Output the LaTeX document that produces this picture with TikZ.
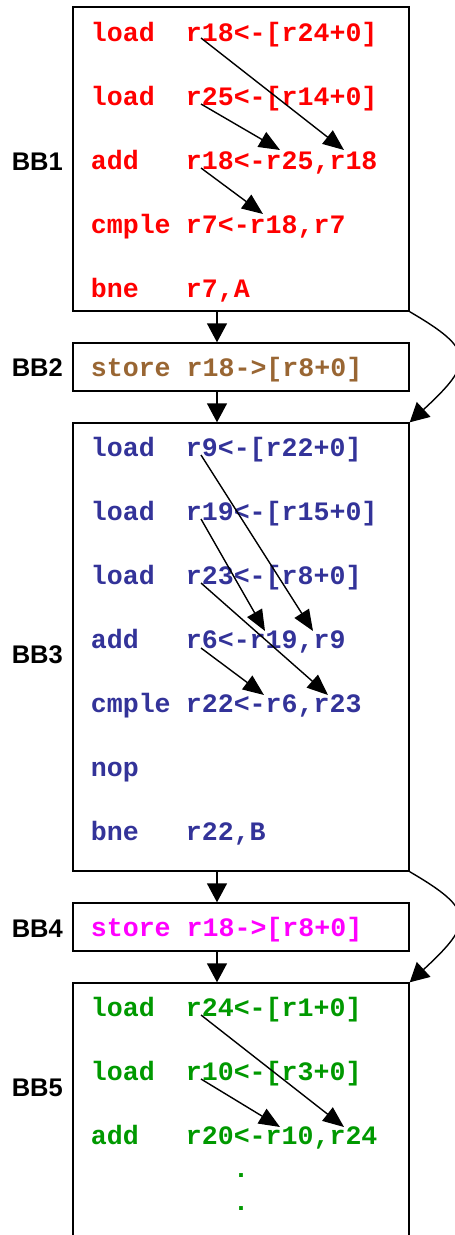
\documentclass[tikz,border=0pt]{standalone}
\usepackage{fontspec}
\usetikzlibrary{arrows.meta}
\newfontfamily\codefont{Liberation Mono}
\newfontfamily\labfont{Liberation Sans}
\definecolor{cred}{HTML}{FF0000}
\definecolor{cbrown}{HTML}{996633}
\definecolor{cblue}{HTML}{333399}
\definecolor{cmag}{HTML}{FF00FF}
\definecolor{cgreen}{HTML}{009900}
\begin{document}
\begin{tikzpicture}[x=1pt,y=-1pt,
  box/.style={draw=black, line width=1.4pt, inner sep=0pt, minimum width=336pt},
  code/.style={anchor=base west, inner sep=0pt, font=\codefont\bfseries\fontsize{26.6}{30}\selectfont},
  lab/.style={anchor=base east, inner sep=0pt, font=\labfont\bfseries\fontsize{25.5}{30}\selectfont},
  flow/.style={line width=1.4pt, -{Triangle[length=19pt,width=20pt]}},
  dep/.style={line width=1.4pt, -{Triangle[length=21pt,width=17pt]}}]
\useasboundingbox (0,0) rectangle (455,1235);
\clip (0,0) rectangle (455,1235);
\fill[white] (0,0) rectangle (455,1235);
% boxes
\node[box, minimum height=304pt] (bb1) at (241,159) {};
\node[box, minimum height=48pt] (bb2) at (241,367) {};
\node[box, minimum height=448pt] (bb3) at (241,647) {};
\node[box, minimum height=48pt] (bb4) at (241,927) {};
\node[box, minimum height=320pt] (bb5) at (241,1143) {};
% labels
\node[lab] (l1) at (63,170.7) {BB1};
\node[lab] (l2) at (63,376) {BB2};
\node[lab] (l3) at (63,663) {BB3};
\node[lab] (l4) at (63,937) {BB4};
\node[lab] (l5) at (63,1096) {BB5};
% BB1 code
\begin{scope}[every node/.append style={text=cred}]
\node[code] (b1o1) at (90.7,41.5) {load};  \node[code] (b1r1) at (185.7,41.5) {r18<-[r24+0]};
\node[code] (b1o2) at (90.7,105.5) {load}; \node[code] (b1r2) at (185.7,105.5) {r25<-[r14+0]};
\node[code] (b1o3) at (90.7,169.5) {add};  \node[code] (b1r3) at (185.7,169.5) {r18<-r25,r18};
\node[code] (b1o4) at (90.7,233.5) {cmple};\node[code] (b1r4) at (185.7,233.5) {r7<-r18,r7};
\node[code] (b1o5) at (90.7,297.5) {bne};  \node[code] (b1r5) at (185.7,297.5) {r7,A};
\end{scope}
% BB2
\node[code, text=cbrown] (b2) at (90.7,376) {store r18->[r8+0]};
% BB3 code
\begin{scope}[every node/.append style={text=cblue}]
\node[code] (b3o1) at (90.7,456) {load};  \node[code] (b3r1) at (185.7,456) {r9<-[r22+0]};
\node[code] (b3o2) at (90.7,520) {load};  \node[code] (b3r2) at (185.7,520) {r19<-[r15+0]};
\node[code] (b3o3) at (90.7,584) {load};  \node[code] (b3r3) at (185.7,584) {r23<-[r8+0]};
\node[code] (b3o4) at (90.7,648) {add};   \node[code] (b3r4) at (185.7,648) {r6<-r19,r9};
\node[code] (b3o5) at (90.7,712) {cmple}; \node[code] (b3r5) at (185.7,712) {r22<-r6,r23};
\node[code] (b3o6) at (90.7,776) {nop};
\node[code] (b3o7) at (90.7,840) {bne};   \node[code] (b3r7) at (185.7,840) {r22,B};
\end{scope}
% BB4
\node[code, text=cmag] (b4) at (90.7,936) {store r18->[r8+0]};
% BB5 code
\begin{scope}[every node/.append style={text=cgreen}]
\node[code] (b5o1) at (90.7,1016.5) {load}; \node[code] (b5r1) at (185.7,1016.5) {r24<-[r1+0]};
\node[code] (b5o2) at (90.7,1080.5) {load}; \node[code] (b5r2) at (185.7,1080.5) {r10<-[r3+0]};
\node[code] (b5o3) at (90.7,1144.5) {add};  \node[code] (b5r3) at (185.7,1144.5) {r20<-r10,r24};
\node[code, anchor=base] (d1) at (241,1177) {.};
\node[code, anchor=base] (d2) at (241,1210) {.};
\end{scope}
% flow arrows
\coordinate (fx) at (217,0);
\draw[flow] (bb1.south -| fx) -- (bb2.north -| fx);
\draw[flow] (bb2.south -| fx) -- (bb3.north -| fx);
\draw[flow] (bb3.south -| fx) -- (bb4.north -| fx);
\draw[flow] (bb4.south -| fx) -- (bb5.north -| fx);
\draw[flow] (bb1.south east) .. controls +(65,38) and +(65,-60) .. (bb3.north east);
\draw[flow] (bb3.south east) .. controls +(65,38) and +(65,-60) .. (bb5.north east);
% dependency arrows BB1
\coordinate (p11) at (201,38);  \coordinate (q11) at (344,150);
\coordinate (p12) at (201,104); \coordinate (q12) at (280,150);
\coordinate (p13) at (201,168); \coordinate (q13) at (263,214);
\draw[dep] (p11) -- (q11);
\draw[dep] (p12) -- (q12);
\draw[dep] (p13) -- (q13);
% BB3
\coordinate (p31) at (201,455); \coordinate (q31) at (313,631);
\coordinate (p32) at (201,519); \coordinate (q32) at (265,631);
\coordinate (p33) at (201,583); \coordinate (q33) at (328,695);
\coordinate (p34) at (201,648); \coordinate (q34) at (264,695);
\draw[dep] (p31) -- (q31);
\draw[dep] (p32) -- (q32);
\draw[dep] (p33) -- (q33);
\draw[dep] (p34) -- (q34);
% BB5
\coordinate (p51) at (201,1015); \coordinate (q51) at (344,1127);
\coordinate (p52) at (201,1079); \coordinate (q52) at (280,1127);
\draw[dep] (p51) -- (q51);
\draw[dep] (p52) -- (q52);
\end{tikzpicture}
\end{document}
